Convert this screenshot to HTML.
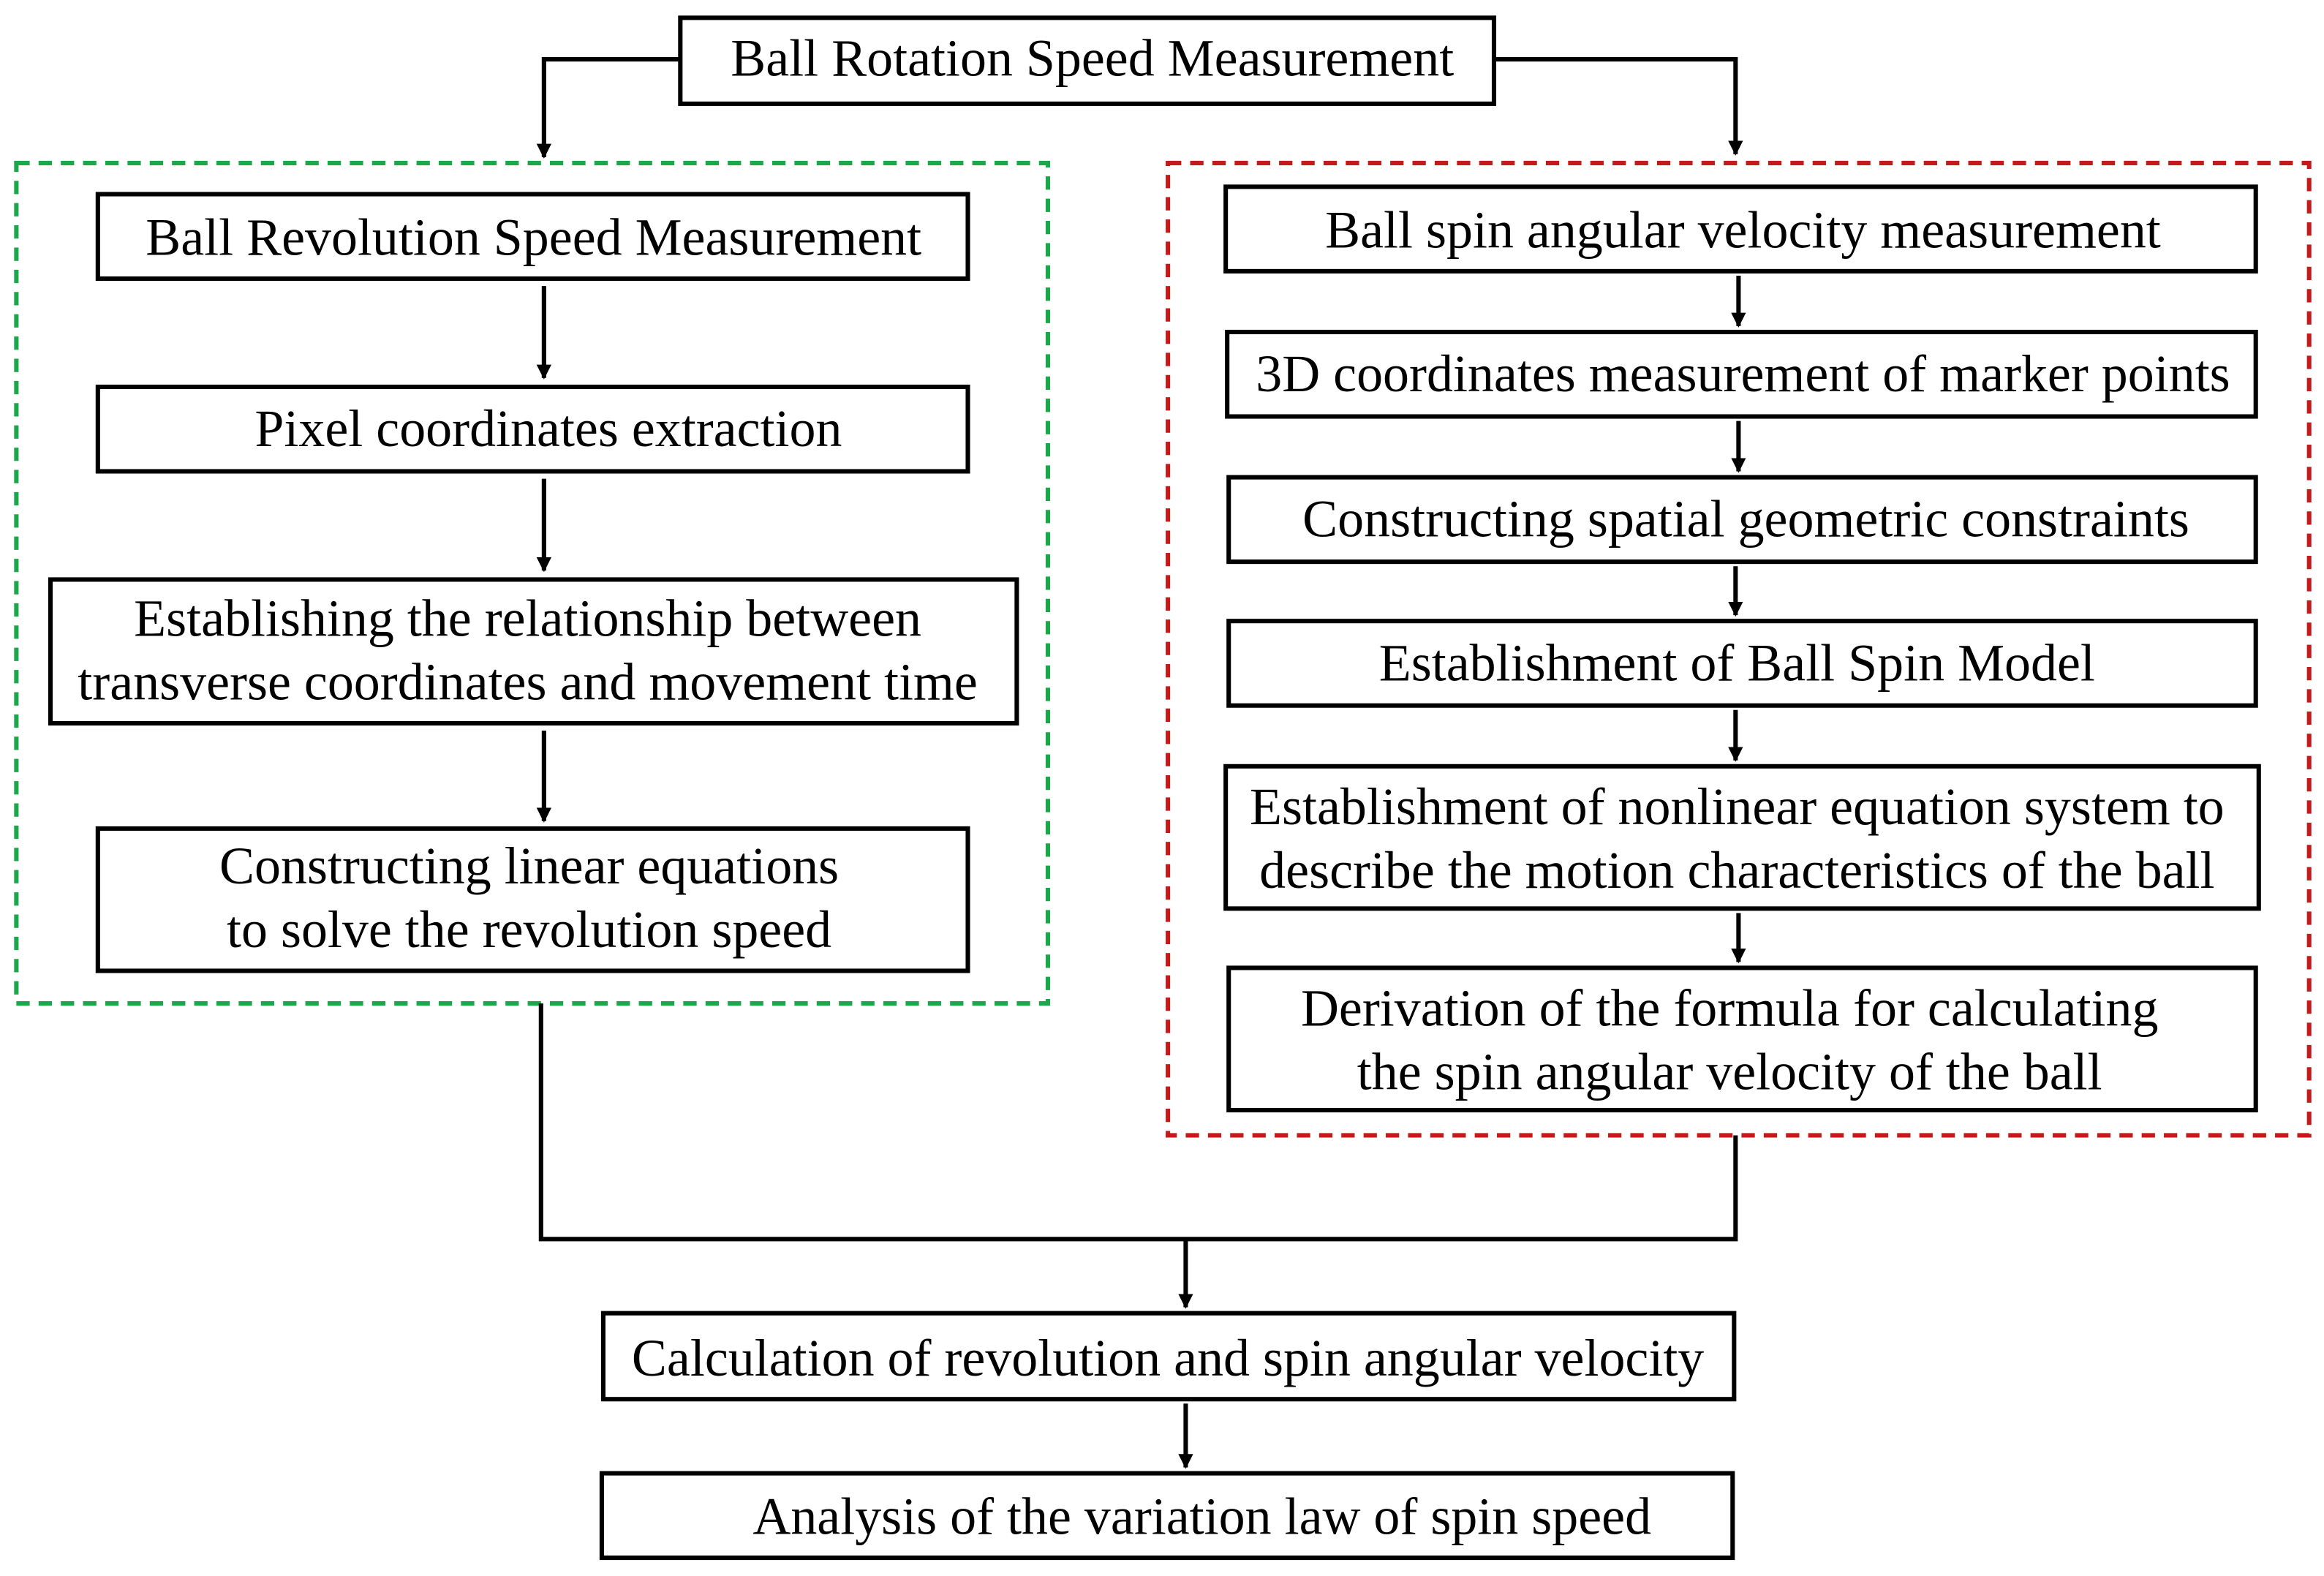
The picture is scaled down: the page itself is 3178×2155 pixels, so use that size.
<!DOCTYPE html>
<html><head><meta charset="utf-8"><style>html,body{margin:0;padding:0;background:#fff}svg{display:block}</style></head>
<body>
<svg width="3178" height="2155" viewBox="0 0 1568 1063.3" xmlns="http://www.w3.org/2000/svg" font-family="'Liberation Serif', serif" font-size="35.5" text-anchor="middle">
<defs><marker id="a" markerWidth="10" markerHeight="10" refX="9" refY="5" orient="auto" markerUnits="userSpaceOnUse"><path d="M0,0 L10,5 L0,10 z" fill="#000"/></marker></defs>
<g fill="none" stroke="#000" stroke-width="3">
<rect x="459" y="12" width="549" height="58"/>
<polyline points="459,40 367,40 367,106" marker-end="url(#a)"/>
<polyline points="1008,40 1171,40 1171,104" marker-end="url(#a)"/>
<rect x="11" y="110" width="696" height="567" stroke="#1aa84a" stroke-dasharray="9,6"/>
<rect x="788" y="110" width="770" height="656" stroke="#c41a1a" stroke-dasharray="9,6"/>
<rect x="66" y="131" width="587" height="57"/>
<rect x="66" y="261" width="587" height="57"/>
<rect x="34" y="391" width="652" height="97"/>
<rect x="66" y="559" width="587" height="96"/>
<line x1="367" y1="193" x2="367" y2="255" marker-end="url(#a)"/>
<line x1="367" y1="323" x2="367" y2="385" marker-end="url(#a)"/>
<line x1="367" y1="493" x2="367" y2="554" marker-end="url(#a)"/>
<rect x="827" y="126" width="695" height="57"/>
<rect x="828" y="224" width="694" height="57"/>
<rect x="829" y="322" width="693" height="57"/>
<rect x="829" y="419" width="693" height="57"/>
<rect x="827" y="517" width="697" height="96"/>
<rect x="829" y="653" width="693" height="96"/>
<line x1="1173" y1="186" x2="1173" y2="220" marker-end="url(#a)"/>
<line x1="1173" y1="284" x2="1173" y2="318" marker-end="url(#a)"/>
<line x1="1171" y1="382" x2="1171" y2="415" marker-end="url(#a)"/>
<line x1="1171" y1="479" x2="1171" y2="513" marker-end="url(#a)"/>
<line x1="1173" y1="616" x2="1173" y2="649" marker-end="url(#a)"/>
<polyline points="365,677 365,836 1171,836 1171,766"/>
<line x1="800" y1="836" x2="800" y2="882" marker-end="url(#a)"/>
<rect x="407" y="886" width="763" height="58"/>
<line x1="800" y1="947" x2="800" y2="990" marker-end="url(#a)"/>
<rect x="406" y="994" width="763" height="57"/>
</g>
<g fill="#000">
<text x="737" y="51">Ball Rotation Speed Measurement</text>
<text x="360" y="172">Ball Revolution Speed Measurement</text>
<text x="370" y="301">Pixel coordinates extraction</text>
<text x="356" y="429">Establishing the relationship between</text>
<text x="356" y="472">transverse coordinates and movement time</text>
<text x="357" y="596">Constructing linear equations</text>
<text x="357" y="639">to solve the revolution speed</text>
<text x="1176" y="167">Ball spin angular velocity measurement</text>
<text x="1176" y="264">3D coordinates measurement of marker points</text>
<text x="1178" y="362">Constructing spatial geometric constraints</text>
<text x="1172" y="459">Establishment of Ball Spin Model</text>
<text x="1172" y="556">Establishment of nonlinear equation system to</text>
<text x="1172" y="599">describe the motion characteristics of the ball</text>
<text x="1167" y="692">Derivation of the formula for calculating</text>
<text x="1167" y="735">the spin angular velocity of the ball</text>
<text x="788" y="928">Calculation of revolution and spin angular velocity</text>
<text x="811" y="1035">Analysis of the variation law of spin speed</text>
</g>
</svg>
</body></html>
